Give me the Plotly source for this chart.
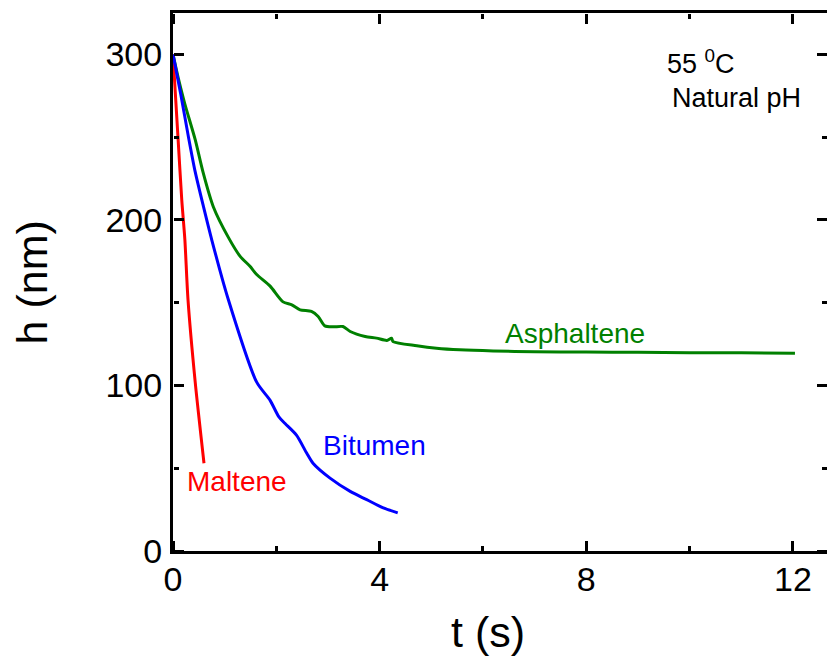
import plotly.graph_objects as go

# Film thickness h (nm) versus time t (s) at 55 °C, natural pH
maltene_t = [0.0, 0.10, 0.17, 0.23, 0.29, 0.43, 0.60]
maltene_h = [300, 248, 212, 188, 152, 102, 53]

bitumen_t = [0.0, 0.15, 0.30, 0.43, 0.59, 0.75, 1.06, 1.62, 1.88, 2.05, 2.17,
             2.39, 2.59, 2.71, 3.04, 3.43, 3.75, 4.07, 4.35]
bitumen_h = [300, 276, 250, 229, 208, 188, 153, 102, 91, 81, 77,
             70, 59, 53, 44, 36, 31, 26, 23]

asph_t = [0.0, 0.10, 0.23, 0.43, 0.58, 0.78, 1.08, 1.30, 1.49, 1.62, 1.88,
          2.13, 2.30, 2.46, 2.68, 2.81, 2.94, 3.10, 3.29, 3.43, 3.72, 3.94,
          4.14, 4.23, 4.26, 4.72, 5.10, 5.55, 6.2, 7.0, 8.0, 9.0, 10.0, 11.0, 12.04]
asph_h = [300, 286, 270, 248.5, 229, 208, 189, 178, 172, 167, 160,
          150.5, 148.7, 145.7, 144.7, 141.7, 136, 135.4, 135.6, 132.6, 129.6, 128.6,
          127.2, 128.6, 126.5, 124, 122.5, 121.5, 120.8, 120.4, 120.2, 120, 119.8,
          119.7, 119.5]

x_tick_step, x_minor_step = 4, 2
y_tick_step, y_minor_step = 100, 50

FONT = "Liberation Sans, Arial, sans-serif"
XR = [0, 12.66]
YR = [0, 325]

fig = go.Figure()
# All axis pairs share identical ranges, so each curve lands on the same scale;
# spreading the curves over them makes every frame-edge axis draw its ticks.
series = [(maltene_t, maltene_h, "#ff0000", "Maltene", "x2", "y2"),
          (bitumen_t, bitumen_h, "#0000ff", "Bitumen", "x3", "y3"),
          (asph_t, asph_h, "#008000", "Asphaltene", "x", "y")]
for t, h, c, n, xa, ya in series:
    fig.add_trace(go.Scatter(x=t, y=h, mode="lines", name=n, xaxis=xa, yaxis=ya,
                             line=dict(color=c, width=3, shape="spline",
                                       smoothing=0.7)))

# Tick marks pointing into the frame: each edge gets a bare overlay axis whose
# "outside" ticks face inward.
tick_style = dict(ticks="outside", tickwidth=2.5, tickcolor="black", ticklen=10)


def edge_axis(rng, step, minor_step, over, side, pos):
    return dict(range=rng, overlaying=over, side=side, anchor="free",
                position=pos, tickmode="linear", tick0=0, dtick=step,
                showline=False, showticklabels=False, showgrid=False,
                zeroline=False,
                minor=dict(dtick=minor_step, tick0=0, ticks="outside",
                           ticklen=5, tickwidth=2.5, tickcolor="black"),
                **tick_style)


fig.update_layout(
    width=827, height=660,
    margin=dict(l=173, r=0, t=13, b=109),
    plot_bgcolor="rgba(0,0,0,0)", paper_bgcolor="white",
    showlegend=False,
    xaxis=dict(range=XR, tickmode="linear", tick0=0, dtick=x_tick_step,
               ticks="", showline=True, linewidth=3, linecolor="black",
               mirror=True, showgrid=False, zeroline=False,
               ticklabelstandoff=-4,
               tickfont=dict(family=FONT, size=34, color="black")),
    yaxis=dict(range=YR, tickmode="linear", tick0=0, dtick=y_tick_step,
               ticks="", showline=True, linewidth=3, linecolor="black",
               mirror=False, showgrid=False, zeroline=False,
               ticklabelstandoff=1,
               tickfont=dict(family=FONT, size=34, color="black")),
    xaxis2=edge_axis(XR, x_tick_step, x_minor_step, "x", "top", 0),
    xaxis3=edge_axis(XR, x_tick_step, x_minor_step, "x", "bottom", 1),
    yaxis2=edge_axis(YR, y_tick_step, y_minor_step, "y", "right", 0),
    yaxis3=edge_axis(YR, y_tick_step, y_minor_step, "y", "left", 1),
)

# Axis titles
fig.add_annotation(text="t (s)", x=6.1, xref="x", y=-0.1506, yref="paper",
                   xanchor="center", yanchor="middle", showarrow=False,
                   font=dict(family=FONT, size=43, color="black"))
fig.add_annotation(text="h (nm)", x=-0.215, xref="paper", y=0.5, yref="paper",
                   xanchor="center", yanchor="middle", textangle=-90,
                   showarrow=False,
                   font=dict(family=FONT, size=43, color="black"))

# Curve labels
labels = [("Maltene", 1.24, 41.7, "#ff0000"),
          ("Bitumen", 3.91, 63.5, "#0000ff"),
          ("Asphaltene", 7.78, 131.2, "#008000")]
for txt, x, y, c in labels:
    fig.add_annotation(text=txt, x=x, y=y, xanchor="center", yanchor="middle",
                       showarrow=False, font=dict(family=FONT, size=28, color=c))

# Conditions
fig.add_annotation(text="55 <sup>0</sup>C", x=10.22, y=295.6, xanchor="center",
                   showarrow=False, font=dict(family=FONT, size=27, color="black"))
fig.add_annotation(text="Natural pH", x=10.9, y=273.9, xanchor="center",
                   showarrow=False, font=dict(family=FONT, size=27, color="black"))

fig.write_html("out.html")
